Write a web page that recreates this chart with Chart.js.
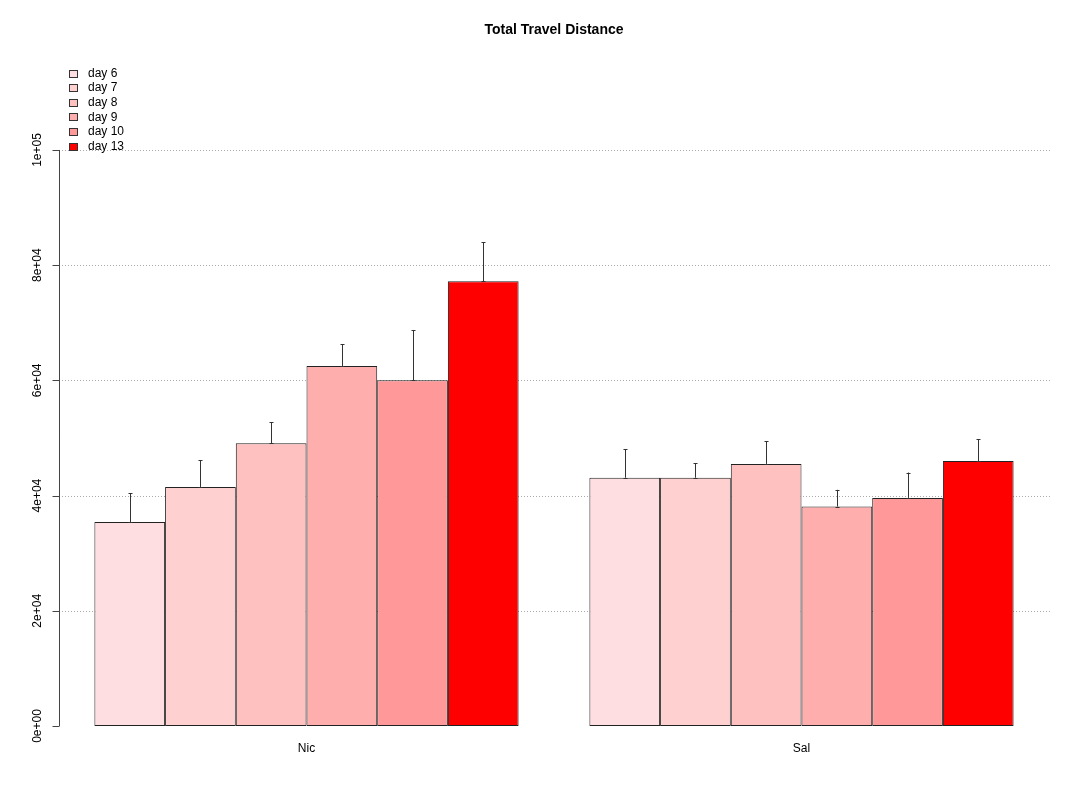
<!DOCTYPE html>
<html>
<head>
<meta charset="utf-8">
<script src="https://cdn.jsdelivr.net/npm/chart.js@4/dist/chart.umd.min.js"></script>
<style>
  html, body { margin: 0; padding: 0; background: #fff; }
  #wrap { width: 1080px; height: 800px; }
</style>
</head>
<body>
<div id="wrap"><canvas id="chart" width="1080" height="800"></canvas></div>
<script>
// data
var groups = ['Nic', 'Sal'];
var days = ['day 6', 'day 7', 'day 8', 'day 9', 'day 10', 'day 13'];
var colors = ['#FFDEE1', '#FFD0D0', '#FFC0C0', '#FFAEAE', '#FF9999', '#FF0000'];
var means = [
  [35400, 43100],
  [41500, 43100],
  [49100, 45500],
  [62500, 38100],
  [60000, 39600],
  [77200, 46000]
];
var errs = [
  [5000, 4900],
  [4600, 2500],
  [3600, 3900],
  [3800, 2900],
  [8700, 4400],
  [6800, 3800]
];
var yTicks = [0, 20000, 40000, 60000, 80000, 100000];
var yTickLabels = ['0e+00', '2e+04', '4e+04', '6e+04', '8e+04', '1e+05'];
var gridAt = [20000, 40000, 60000, 80000, 100000];

var FONT = '"Liberation Sans", Arial, sans-serif';

var datasets = days.map(function (d, i) {
  return {
    label: d,
    data: means[i],
    backgroundColor: colors[i],
    borderColor: '#222',
    borderWidth: 1,
    borderSkipped: false
  };
});

// dotted grid behind bars
var gridPlugin = {
  id: 'rgrid',
  beforeDatasetsDraw: function (chart) {
    var ctx = chart.ctx, ys = chart.scales.y, a = chart.chartArea;
    ctx.save();
    ctx.strokeStyle = '#aaa';
    ctx.lineWidth = 1;
    ctx.setLineDash([1, 2]);
    gridAt.forEach(function (v) {
      var y = Math.round(ys.getPixelForValue(v)) + 0.5;
      ctx.beginPath();
      ctx.moveTo(a.left, y);
      ctx.lineTo(a.right + 1, y);
      ctx.stroke();
    });
    ctx.restore();
  }
};

// error bars, y axis, legend, title
var extrasPlugin = {
  id: 'rextras',
  afterDatasetsDraw: function (chart) {
    var ctx = chart.ctx, ys = chart.scales.y, a = chart.chartArea;
    ctx.save();
    ctx.strokeStyle = '#333';
    ctx.lineWidth = 1;
    chart.data.datasets.forEach(function (ds, i) {
      var meta = chart.getDatasetMeta(i);
      meta.data.forEach(function (bar, j) {
        var x = Math.round(bar.x) + 0.5;
        var y0 = ys.getPixelForValue(means[i][j]);
        var y1 = ys.getPixelForValue(means[i][j] + errs[i][j]);
        ctx.beginPath();
        ctx.moveTo(x, y0);
        ctx.lineTo(x, y1);
        ctx.moveTo(x - 2, Math.round(y1) + 0.5);
        ctx.lineTo(x + 2, Math.round(y1) + 0.5);
        ctx.moveTo(x - 2, Math.round(y0) + 0.5);
        ctx.lineTo(x + 2, Math.round(y0) + 0.5);
        ctx.stroke();
      });
    });

    // y axis (R style)
    var ax = a.left + 0.5;
    ctx.strokeStyle = '#444';
    ctx.beginPath();
    ctx.moveTo(ax, ys.getPixelForValue(yTicks[0]));
    ctx.lineTo(ax, ys.getPixelForValue(yTicks[yTicks.length - 1]));
    yTicks.forEach(function (v) {
      var y = Math.round(ys.getPixelForValue(v)) + 0.5;
      ctx.moveTo(ax, y);
      ctx.lineTo(ax - 7, y);
    });
    ctx.stroke();
    ctx.fillStyle = '#000';
    ctx.font = '12px ' + FONT;
    ctx.textAlign = 'center';
    ctx.textBaseline = 'middle';
    yTicks.forEach(function (v, k) {
      ctx.save();
      ctx.translate(38, ys.getPixelForValue(v));
      ctx.rotate(-Math.PI / 2);
      ctx.fillText(yTickLabels[k], 0, 0);
      ctx.restore();
    });

    // legend
    ctx.textAlign = 'left';
    days.forEach(function (d, i) {
      var cy = 73.5 + i * 14.6;
      ctx.fillStyle = colors[i];
      ctx.fillRect(69, Math.round(cy - 4), 9, 8);
      ctx.strokeStyle = '#333';
      ctx.strokeRect(69.5, Math.round(cy - 4) + 0.5, 8, 7);
      ctx.fillStyle = '#000';
      ctx.fillText(d, 88, cy);
    });

    // title
    ctx.font = 'bold 14px ' + FONT;
    ctx.textAlign = 'center';
    ctx.fillText('Total Travel Distance', (a.left + a.right) / 2, 30);
    ctx.restore();
  }
};

new Chart(document.getElementById('chart').getContext('2d'), {
  type: 'bar',
  data: { labels: groups, datasets: datasets },
  options: {
    responsive: false,
    animation: false,
    layout: { padding: { left: 59, right: 31, top: 67, bottom: 0 } },
    plugins: { legend: { display: false }, tooltip: { enabled: false } },
    datasets: { bar: { categoryPercentage: 0.857, barPercentage: 1 } },
    scales: {
      x: {
        grid: { display: false, drawTicks: false },
        border: { display: false },
        ticks: { color: '#000', font: { family: FONT, size: 12 }, padding: 15 },
        afterFit: function (s) { s.height = 74; }
      },
      y: {
        min: 0,
        max: 114400,
        display: false
      }
    }
  },
  plugins: [gridPlugin, extrasPlugin]
});
</script>
</body>
</html>
